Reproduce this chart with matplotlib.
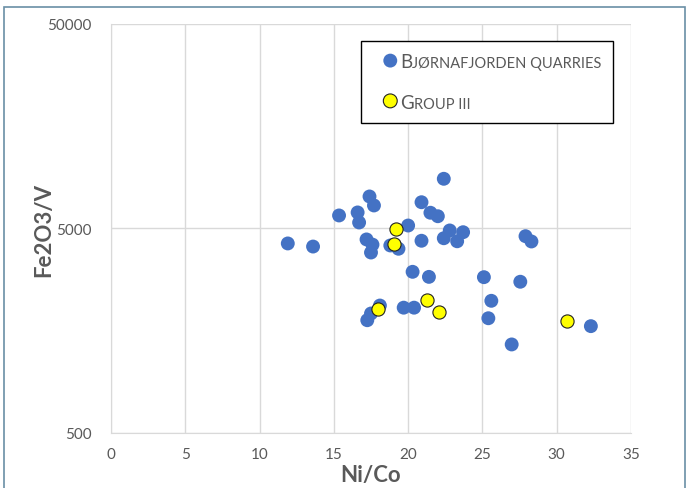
import matplotlib
matplotlib.use("Agg")
import matplotlib.pyplot as plt
from matplotlib.offsetbox import (AnchoredOffsetbox, HPacker, VPacker,
                                  TextArea, DrawingArea)
from matplotlib.patches import Circle, Rectangle

plt.rcParams['font.family'] = ['Lato', 'DejaVu Sans']

# Bjørnafjorden quarries
quarry_x = [11.9, 13.6, 15.35, 16.6, 16.7, 17.4, 17.7, 17.2, 17.6, 17.5,
            18.8, 19.35, 20.0, 20.9, 20.9, 21.5, 22.0, 22.4, 22.8, 22.4,
            23.3, 23.7, 27.9, 28.3, 20.3, 21.4, 25.1, 27.55, 25.6, 25.4,
            26.97, 19.7, 20.4, 18.1, 17.5, 17.25, 32.3]
quarry_y = [4225, 4080, 5790, 5990, 5350, 7170, 6480, 4420, 4170, 3815,
            4130, 3980, 5170, 6720, 4355, 5970, 5740, 8750, 4890, 4480,
            4330, 4795, 4585, 4320, 3070, 2900, 2890, 2745, 2215, 1820,
            1355, 2050, 2050, 2100, 1920, 1780, 1665]

# Group III
group_x = [19.2, 19.05, 21.3, 22.1, 17.95, 30.7]
group_y = [4945, 4210, 2245, 1955, 2015, 1755]

x_ticks = [0, 5, 10, 15, 20, 25, 30, 35]
y_ticks = [500, 5000, 50000]

blue = '#4472C4'
yellow = '#FFFF00'
grid_c = '#D9D9D9'
text_c = '#595959'

fig = plt.figure(figsize=(6.89, 4.89), dpi=100)
ax = fig.add_axes([0.1611, 0.1125, 0.7547, 0.8364])

ax.scatter(quarry_x, quarry_y, s=100, color=blue, edgecolors='none', zorder=3)
ax.scatter(group_x, group_y, s=90, color=yellow, edgecolors='#222222',
           linewidths=0.8, zorder=4)

ax.set_yscale('log')
ax.set_xlim(0, 35)
ax.set_ylim(500, 50000)
ax.set_xticks(x_ticks)
ax.set_xticklabels([str(t) for t in x_ticks])
ax.set_yticks(y_ticks)
ax.set_yticklabels([str(t) for t in y_ticks])
ax.yaxis.set_minor_locator(matplotlib.ticker.NullLocator())
ax.tick_params(length=0, colors=text_c, labelsize=11)
ax.tick_params(axis='x', pad=10)
ax.tick_params(axis='y', pad=14)
ax.grid(True, color=grid_c, linewidth=1, zorder=0)
ax.set_axisbelow(True)
for side in ['top', 'right']:
    ax.spines[side].set_visible(False)
for side in ['left', 'bottom']:
    ax.spines[side].set_color(grid_c)

ax.set_xlabel('Ni/Co', fontsize=16, fontweight='bold', color=text_c, labelpad=2)
ax.set_ylabel('Fe2O3/V', fontsize=16, fontweight='bold', color=text_c, labelpad=-5)


def legend_row(color, edge, big, small):
    da = DrawingArea(18, 14, 0, 0)
    da.add_artist(Circle((13, 8), 5.0, facecolor=color,
                         edgecolor=edge, linewidth=0.8 if edge != 'none' else 0))
    t1 = TextArea(big, textprops=dict(size=13.5, color=text_c))
    t2 = TextArea(small, textprops=dict(size=10.5, color=text_c))
    txt = HPacker(children=[t1, t2], align='baseline', pad=0, sep=0)
    return HPacker(children=[da, txt], align='center', pad=0, sep=2)


row1 = legend_row(blue, 'none', 'B', 'JØRNAFJORDEN QUARRIES')
row2 = legend_row(yellow, '#222222', 'G', 'ROUP III')
box = VPacker(children=[row1, row2], align='left', pad=0, sep=15)
anch = AnchoredOffsetbox(loc='upper left', child=box, pad=0.8, borderpad=0,
                         frameon=True, bbox_to_anchor=(0.481, 0.958),
                         bbox_transform=ax.transAxes)
anch.patch.set_edgecolor('black')
anch.patch.set_linewidth(1)
anch.patch.set_boxstyle('square', pad=0)
ax.add_artist(anch)

# figure border
fig.patches.append(Rectangle((4 / 689, -0.05), (685 - 4) / 689, 1.05 - 8 / 489,
                             transform=fig.transFigure, fill=False,
                             edgecolor='#6A8FA6', linewidth=1.2))

fig.savefig('out.png', dpi=100)
